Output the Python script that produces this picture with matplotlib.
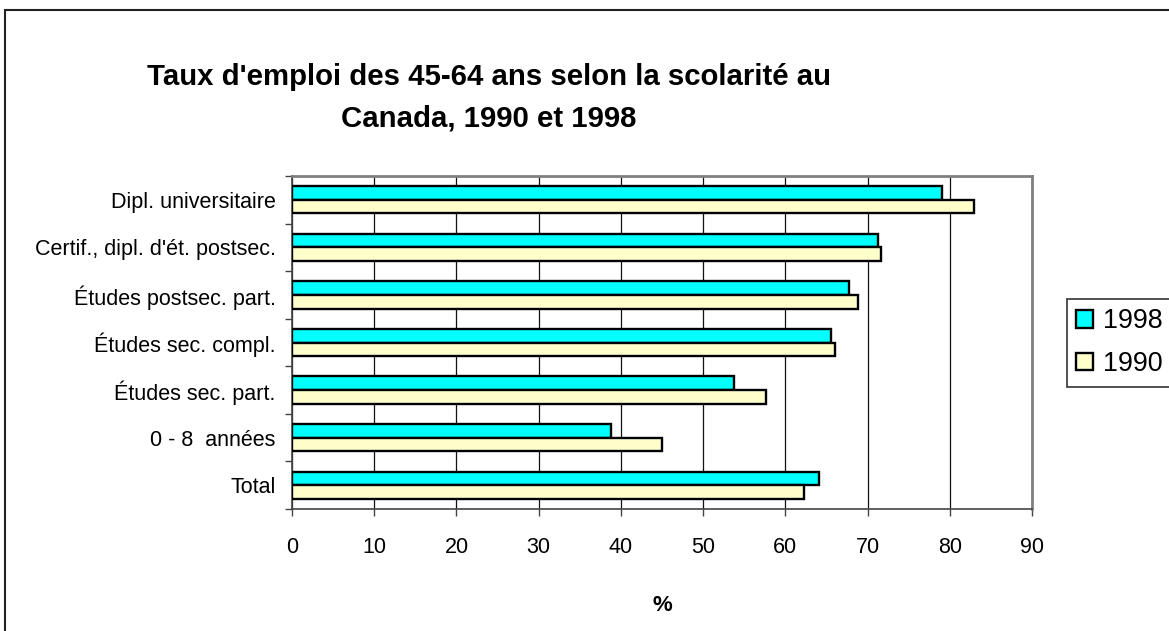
import matplotlib.pyplot as plt
import numpy as np
from matplotlib.patches import Rectangle

plt.rcParams['font.family'] = ['Liberation Sans', 'DejaVu Sans']

# Taux d'emploi (%) des 45-64 ans, du haut vers le bas du graphique
categories = ['Dipl. universitaire', "Certif., dipl. d'ét. postsec.",
              'Études postsec. part.', 'Études sec. compl.',
              'Études sec. part.', '0 - 8  années', 'Total']
taux_1998 = [79.0, 71.3, 67.7, 65.6, 53.8, 38.8, 64.1]
taux_1990 = [82.9, 71.6, 68.8, 66.0, 57.6, 45.0, 62.3]
xticks = [0, 10, 20, 30, 40, 50, 60, 70, 80, 90]

fig = plt.figure(figsize=(11.69, 6.31), dpi=100)
ax = fig.add_axes([0.2498, 0.1933, 0.6330, 0.5278])

y = np.arange(len(categories))
h = 0.2857
ax.barh(y - h / 2, taux_1998, height=h, color='#00FFFF', edgecolor='black',
        linewidth=1.7, label='1998', zorder=3)
ax.barh(y + h / 2, taux_1990, height=h, color='#FFFFCC', edgecolor='black',
        linewidth=1.7, label='1990', zorder=3)

ax.set_xlim(0, 90)
ax.set_ylim(len(categories) - 0.5, -0.5)
ax.set_xticks(xticks)
ax.tick_params(axis='x', direction='out', length=5, width=1, pad=15.5,
               labelsize=15.5, color='#444444')
ax.set_yticks(y)
ax.set_yticklabels(categories)
ax.tick_params(axis='y', which='major', length=0, pad=11.7, labelsize=15.5)
ax.set_yticks(np.arange(len(categories) + 1) - 0.5, minor=True)
ax.tick_params(axis='y', which='minor', direction='out', length=5, width=1,
               color='#444444')

ax.grid(axis='x', color='#111111', linewidth=0.9, zorder=0)
for side in ['top', 'right']:
    ax.spines[side].set_color('#808080')
    ax.spines[side].set_linewidth(2)
for side in ['left', 'bottom']:
    ax.spines[side].set_color('#444444')
    ax.spines[side].set_linewidth(1.2)

ax.set_xlabel('%', fontsize=16, fontweight='bold', labelpad=26)

fig.text(0.418, 0.845, "Taux d'emploi des 45-64 ans selon la scolarité au\nCanada, 1990 et 1998",
         ha='center', va='center', fontsize=21.2, fontweight='bold', linespacing=1.58)

leg = fig.legend(loc='upper left', bbox_to_anchor=(0.9127, 0.5261),
                 fontsize=19.4, frameon=True, fancybox=False, borderpad=0.35,
                 handlelength=0.6, handleheight=0.6, handletextpad=0.37,
                 labelspacing=0.63, borderaxespad=0)
leg.get_frame().set_edgecolor('black')
leg.get_frame().set_linewidth(1.2)

# cadre du graphique
fig.patches.append(Rectangle((5 / 1169, -0.1), 1.2, 1.1 - 10 / 631,
                             transform=fig.transFigure, fill=False,
                             edgecolor='#222222', linewidth=1.5))

fig.savefig('out.png', dpi=100)
